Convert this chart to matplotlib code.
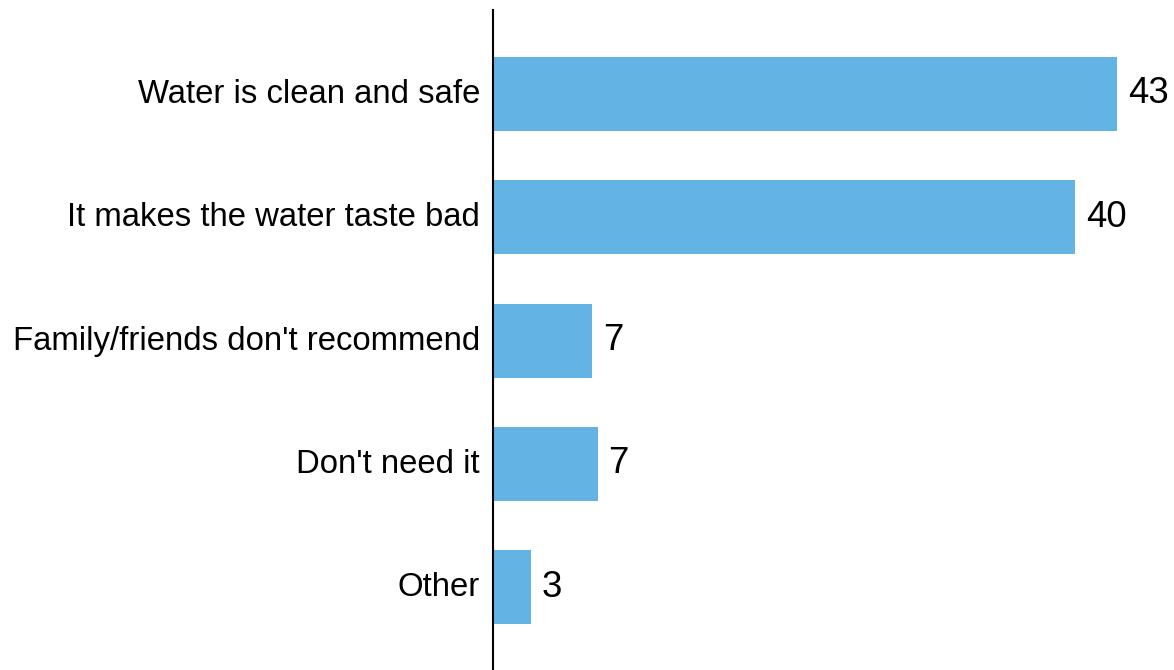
import matplotlib.pyplot as plt
import matplotlib.transforms as mtransforms

plt.rcParams['font.family'] = ['Liberation Sans', 'DejaVu Sans']

# Reasons for not using the product (percent of respondents)
reasons = ["Water is clean and safe", "It makes the water taste bad",
           "Family/friends don't recommend", "Don't need it", "Other"]
shares = [43.0, 40.1, 6.8, 7.2, 2.6]

bar_color = '#63B4E4'

fig = plt.figure(figsize=(11.74, 6.70), dpi=100)
ax = fig.add_axes([0.42, 0.0, 0.58, 0.985])

pos = list(range(len(reasons)))
bars = ax.barh(pos, shares, height=0.6, color=bar_color)

for b, v in zip(bars, shares):
    ax.text(b.get_width() + 0.75, b.get_y() + b.get_height() / 2, f"{v:.0f}",
            va='center', ha='left', fontsize=26.3)

ax.set_yticks(pos)
ax.set_yticklabels(reasons, fontsize=23.7)
ax.tick_params(axis='y', length=0, pad=9.4)
ax.set_xticks([])
ax.set_xlim(0, 46.9)
ax.set_ylim(4.67, -0.68)

# nudge category labels up a touch
shift = mtransforms.ScaledTranslation(0, 3 / 100, fig.dpi_scale_trans)
for lbl in ax.get_yticklabels():
    lbl.set_transform(lbl.get_transform() + shift)

for side in ['top', 'right', 'bottom']:
    ax.spines[side].set_visible(False)
ax.spines['left'].set_linewidth(1.5)

fig.savefig('out.png', dpi=100)
